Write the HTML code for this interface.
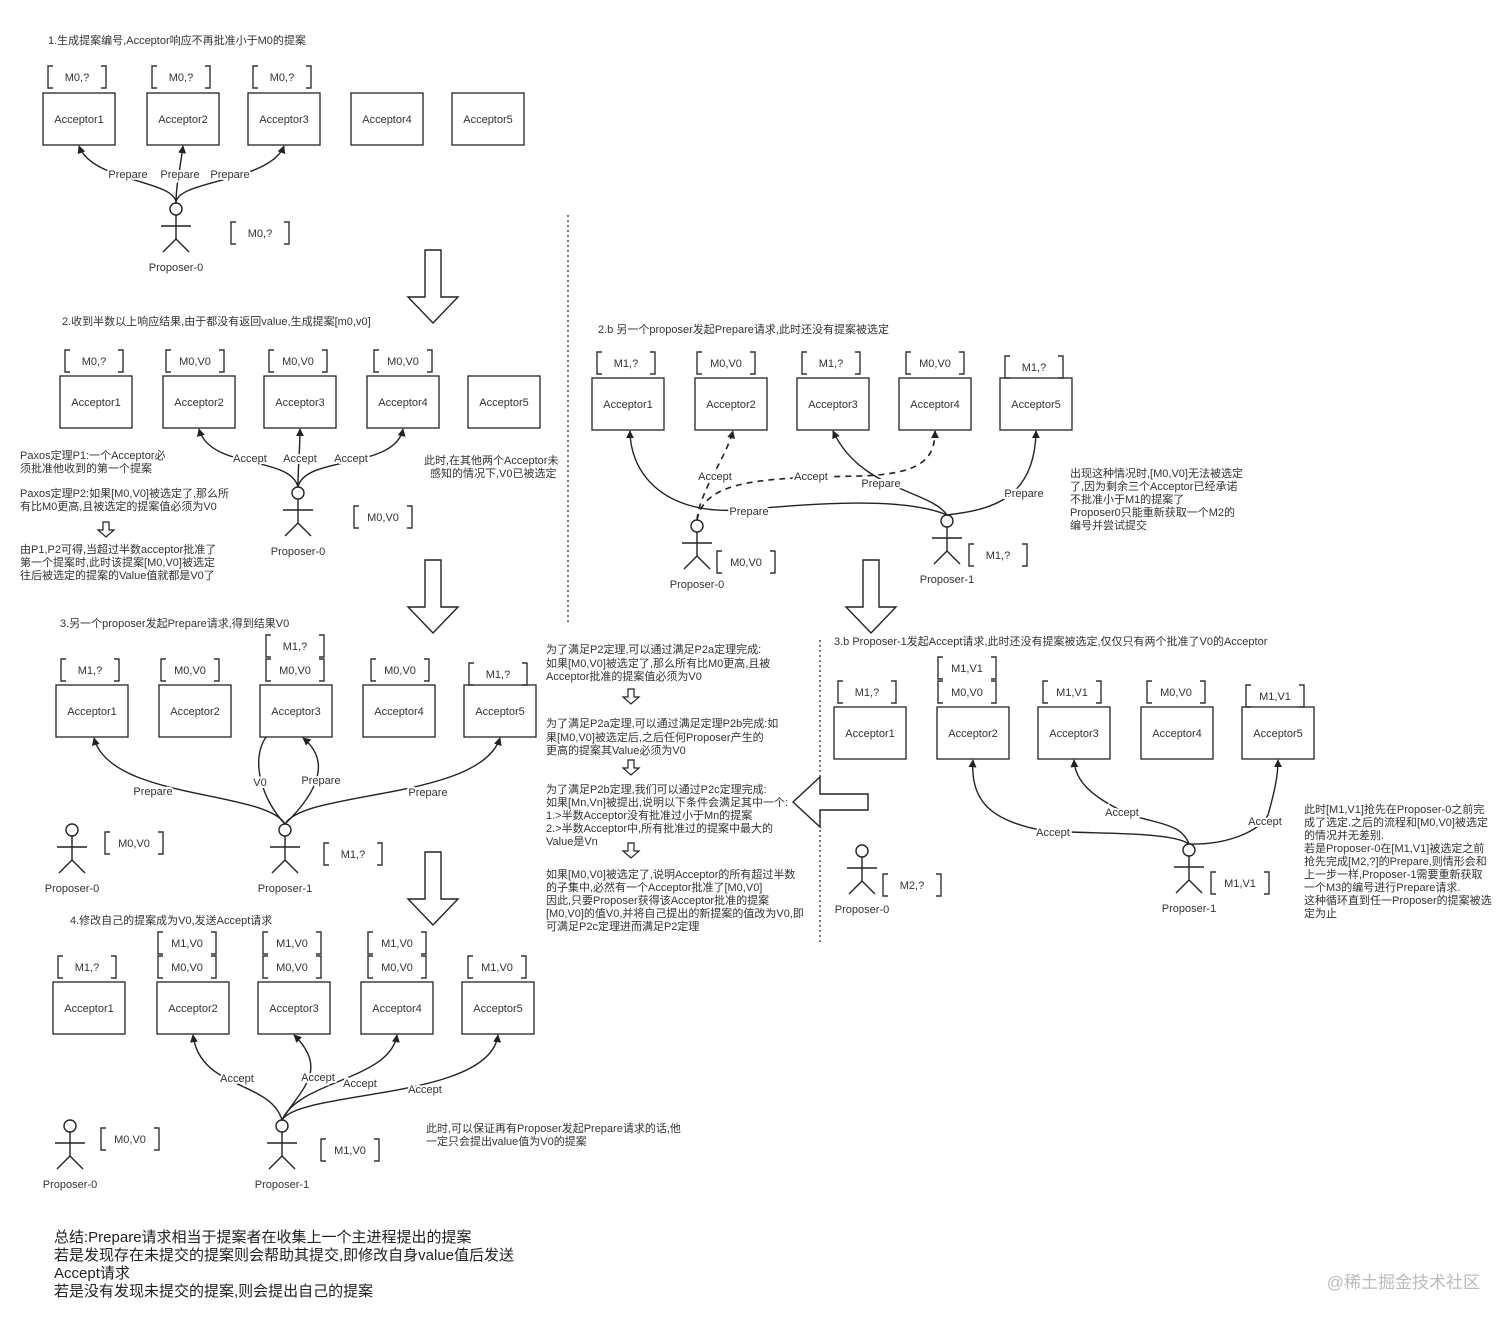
<!DOCTYPE html>
<html><head><meta charset="utf-8">
<style>
html,body{margin:0;padding:0;background:#fff}
svg{display:block}
text{font-family:"Liberation Sans","Noto Sans CJK SC",sans-serif;font-size:11px;fill:#333}
.c{text-anchor:middle}
.lb{text-anchor:middle;stroke:#fff;stroke-width:4;paint-order:stroke;fill:#333}
.bx rect{fill:#fff;stroke:#222;stroke-width:1.3}
.e{fill:none;stroke:#222;stroke-width:1.4}
.d{fill:none;stroke:#222;stroke-width:1.6;stroke-dasharray:6 5}
.sum{font-size:15px;fill:#222}
</style></head><body>
<svg width="1512" height="1324" viewBox="0 0 1512 1324" xmlns="http://www.w3.org/2000/svg">
<defs>
<path id="br" d="M-24,0 H-29 V22 H-24 M24,0 H29 V22 H24" fill="none" stroke="#333" stroke-width="1.4"/>
<g id="act" fill="none" stroke="#222" stroke-width="1.4"><circle cx="0" cy="0" r="6" fill="#fff"/><path d="M0,6 V30 M-15,17 H15 M0,30 L-13,43 M0,30 L13,43"/></g>
<marker id="ar" viewBox="0 0 10 10" refX="9" refY="5" markerWidth="8" markerHeight="8" orient="auto-start-reverse" markerUnits="userSpaceOnUse"><path d="M0,0 L10,5 L0,10 z" fill="#222"/></marker>
<path id="dn" d="M17,0 H33 V47 H50 L25,73 L0,47 H17 Z" fill="#fff" stroke="#222" stroke-width="1.4"/>
<path id="sd" d="M5,0 H11 V8 H16 L8,15 L0,8 H5 Z" fill="#fff" stroke="#222" stroke-width="1.2"/>
</defs>

<!-- Section 1 -->
<text x="48" y="44">1.生成提案编号,Acceptor响应不再批准小于M0的提案</text>
<g class="bx">
<g transform="translate(43,93)"><rect width="72" height="52"/><text x="36" y="30" class="c">Acceptor1</text></g>
<g transform="translate(147,93)"><rect width="72" height="52"/><text x="36" y="30" class="c">Acceptor2</text></g>
<g transform="translate(248,93)"><rect width="72" height="52"/><text x="36" y="30" class="c">Acceptor3</text></g>
<g transform="translate(351,93)"><rect width="72" height="52"/><text x="36" y="30" class="c">Acceptor4</text></g>
<g transform="translate(452,93)"><rect width="72" height="52"/><text x="36" y="30" class="c">Acceptor5</text></g>
</g>
<g transform="translate(77,66)"><use href="#br"/><text y="15" class="c">M0,?</text></g>
<g transform="translate(181,66)"><use href="#br"/><text y="15" class="c">M0,?</text></g>
<g transform="translate(282,66)"><use href="#br"/><text y="15" class="c">M0,?</text></g>
<path class="e" marker-end="url(#ar)" d="M176,203 C176,180 92,182 79,146"/>
<path class="e" marker-end="url(#ar)" d="M176,203 C176,185 180,170 183,146"/>
<path class="e" marker-end="url(#ar)" d="M176,203 C176,180 270,182 284,146"/>
<text x="128" y="178" class="lb">Prepare</text>
<text x="180" y="178" class="lb">Prepare</text>
<text x="230" y="178" class="lb">Prepare</text>
<g transform="translate(176,209)"><use href="#act"/><text y="62" class="c">Proposer-0</text></g>
<g transform="translate(260,222)"><use href="#br"/><text y="15" class="c">M0,?</text></g>

<use href="#dn" x="408" y="250"/>
<use href="#dn" x="408" y="560"/>
<use href="#dn" x="408" y="852"/>
<use href="#dn" x="846" y="560"/>

<line x1="568" y1="215" x2="568" y2="622" stroke="#333" stroke-width="1.3" stroke-dasharray="2 3"/>
<line x1="820" y1="640" x2="820" y2="942" stroke="#333" stroke-width="1.3" stroke-dasharray="2 3"/>

<!-- Section 2 -->
<text x="62" y="325">2.收到半数以上响应结果,由于都没有返回value,生成提案[m0,v0]</text>
<g class="bx">
<g transform="translate(60,376)"><rect width="72" height="52"/><text x="36" y="30" class="c">Acceptor1</text></g>
<g transform="translate(163,376)"><rect width="72" height="52"/><text x="36" y="30" class="c">Acceptor2</text></g>
<g transform="translate(264,376)"><rect width="72" height="52"/><text x="36" y="30" class="c">Acceptor3</text></g>
<g transform="translate(367,376)"><rect width="72" height="52"/><text x="36" y="30" class="c">Acceptor4</text></g>
<g transform="translate(468,376)"><rect width="72" height="52"/><text x="36" y="30" class="c">Acceptor5</text></g>
</g>
<g transform="translate(94,350)"><use href="#br"/><text y="15" class="c">M0,?</text></g>
<g transform="translate(195,350)"><use href="#br"/><text y="15" class="c">M0,V0</text></g>
<g transform="translate(298,350)"><use href="#br"/><text y="15" class="c">M0,V0</text></g>
<g transform="translate(403,350)"><use href="#br"/><text y="15" class="c">M0,V0</text></g>
<path class="e" marker-end="url(#ar)" d="M298,487 C290,455 210,470 199,429"/>
<path class="e" marker-end="url(#ar)" d="M298,487 C298,465 300,450 300,429"/>
<path class="e" marker-end="url(#ar)" d="M298,487 C305,455 395,470 403,429"/>
<text x="250" y="462" class="lb">Accept</text>
<text x="300" y="462" class="lb">Accept</text>
<text x="351" y="462" class="lb">Accept</text>
<g transform="translate(298,493)"><use href="#act"/><text y="62" class="c">Proposer-0</text></g>
<g transform="translate(383,506)"><use href="#br"/><text y="15" class="c">M0,V0</text></g>
<text x="20" y="459">Paxos定理P1:一个Acceptor必</text>
<text x="20" y="472">须批准他收到的第一个提案</text>
<text x="20" y="497">Paxos定理P2:如果[M0,V0]被选定了,那么所</text>
<text x="20" y="510">有比M0更高,且被选定的提案值必须为V0</text>
<use href="#sd" x="98" y="522"/>
<text x="20" y="553">由P1,P2可得,当超过半数acceptor批准了</text>
<text x="20" y="566">第一个提案时,此时该提案[M0,V0]被选定</text>
<text x="20" y="579">往后被选定的提案的Value值就都是V0了</text>
<text x="424" y="464">此时,在其他两个Acceptor未</text>
<text x="430" y="477">感知的情况下,V0已被选定</text>

<!-- Section 3 -->
<text x="60" y="627">3.另一个proposer发起Prepare请求,得到结果V0</text>
<g class="bx">
<g transform="translate(56,685)"><rect width="72" height="52"/><text x="36" y="30" class="c">Acceptor1</text></g>
<g transform="translate(159,685)"><rect width="72" height="52"/><text x="36" y="30" class="c">Acceptor2</text></g>
<g transform="translate(260,685)"><rect width="72" height="52"/><text x="36" y="30" class="c">Acceptor3</text></g>
<g transform="translate(363,685)"><rect width="72" height="52"/><text x="36" y="30" class="c">Acceptor4</text></g>
<g transform="translate(464,685)"><rect width="72" height="52"/><text x="36" y="30" class="c">Acceptor5</text></g>
</g>
<g transform="translate(90,659)"><use href="#br"/><text y="15" class="c">M1,?</text></g>
<g transform="translate(190,659)"><use href="#br"/><text y="15" class="c">M0,V0</text></g>
<g transform="translate(295,635)"><use href="#br"/><text y="15" class="c">M1,?</text></g>
<g transform="translate(295,659)"><use href="#br"/><text y="15" class="c">M0,V0</text></g>
<g transform="translate(400,659)"><use href="#br"/><text y="15" class="c">M0,V0</text></g>
<g transform="translate(498,663)"><use href="#br"/><text y="15" class="c">M1,?</text></g>
<path class="e" marker-end="url(#ar)" d="M285,824 C265,790 110,800 94,738"/>
<path class="e" d="M285,824 C262,800 250,760 266,737"/>
<path class="e" marker-end="url(#ar)" d="M285,824 C320,790 330,760 303,738"/>
<path class="e" marker-end="url(#ar)" d="M285,824 C305,790 480,800 500,738"/>
<text x="153" y="795" class="lb">Prepare</text>
<text x="260" y="786" class="lb">V0</text>
<text x="321" y="784" class="lb">Prepare</text>
<text x="428" y="796" class="lb">Prepare</text>
<g transform="translate(72,830)"><use href="#act"/><text y="62" class="c">Proposer-0</text></g>
<g transform="translate(134,832)"><use href="#br"/><text y="15" class="c">M0,V0</text></g>
<g transform="translate(285,830)"><use href="#act"/><text y="62" class="c">Proposer-1</text></g>
<g transform="translate(353,843)"><use href="#br"/><text y="15" class="c">M1,?</text></g>

<!-- Section 4 -->
<text x="70" y="924">4.修改自己的提案成为V0,发送Accept请求</text>
<g class="bx">
<g transform="translate(53,982)"><rect width="72" height="52"/><text x="36" y="30" class="c">Acceptor1</text></g>
<g transform="translate(157,982)"><rect width="72" height="52"/><text x="36" y="30" class="c">Acceptor2</text></g>
<g transform="translate(258,982)"><rect width="72" height="52"/><text x="36" y="30" class="c">Acceptor3</text></g>
<g transform="translate(361,982)"><rect width="72" height="52"/><text x="36" y="30" class="c">Acceptor4</text></g>
<g transform="translate(462,982)"><rect width="72" height="52"/><text x="36" y="30" class="c">Acceptor5</text></g>
</g>
<g transform="translate(87,956)"><use href="#br"/><text y="15" class="c">M1,?</text></g>
<g transform="translate(187,932)"><use href="#br"/><text y="15" class="c">M1,V0</text></g>
<g transform="translate(187,956)"><use href="#br"/><text y="15" class="c">M0,V0</text></g>
<g transform="translate(292,932)"><use href="#br"/><text y="15" class="c">M1,V0</text></g>
<g transform="translate(292,956)"><use href="#br"/><text y="15" class="c">M0,V0</text></g>
<g transform="translate(397,932)"><use href="#br"/><text y="15" class="c">M1,V0</text></g>
<g transform="translate(397,956)"><use href="#br"/><text y="15" class="c">M0,V0</text></g>
<g transform="translate(497,956)"><use href="#br"/><text y="15" class="c">M1,V0</text></g>
<path class="e" marker-end="url(#ar)" d="M282,1120 C270,1080 200,1090 193,1035"/>
<path class="e" marker-end="url(#ar)" d="M282,1120 C300,1090 330,1070 294,1035"/>
<path class="e" marker-end="url(#ar)" d="M282,1120 C300,1080 390,1080 397,1035"/>
<path class="e" marker-end="url(#ar)" d="M282,1120 C300,1090 490,1100 498,1035"/>
<text x="237" y="1082" class="lb">Accept</text>
<text x="318" y="1081" class="lb">Accept</text>
<text x="360" y="1087" class="lb">Accept</text>
<text x="425" y="1093" class="lb">Accept</text>
<g transform="translate(70,1126)"><use href="#act"/><text y="62" class="c">Proposer-0</text></g>
<g transform="translate(130,1128)"><use href="#br"/><text y="15" class="c">M0,V0</text></g>
<g transform="translate(282,1126)"><use href="#act"/><text y="62" class="c">Proposer-1</text></g>
<g transform="translate(350,1139)"><use href="#br"/><text y="15" class="c">M1,V0</text></g>
<text x="426" y="1132">此时,可以保证再有Proposer发起Prepare请求的话,他</text>
<text x="426" y="1145">一定只会提出value值为V0的提案</text>

<!-- Summary -->
<text x="54" y="1242" class="sum">总结:Prepare请求相当于提案者在收集上一个主进程提出的提案</text>
<text x="54" y="1260" class="sum">若是发现存在未提交的提案则会帮助其提交,即修改自身value值后发送</text>
<text x="54" y="1278" class="sum">Accept请求</text>
<text x="54" y="1296" class="sum">若是没有发现未提交的提案,则会提出自己的提案</text>
<text x="1480" y="1288" style="font-size:17px;fill:#bbb;text-anchor:end">@稀土掘金技术社区</text>

<!-- Section 2.b -->
<text x="598" y="333">2.b 另一个proposer发起Prepare请求,此时还没有提案被选定</text>
<g class="bx">
<g transform="translate(592,378)"><rect width="72" height="52"/><text x="36" y="30" class="c">Acceptor1</text></g>
<g transform="translate(695,378)"><rect width="72" height="52"/><text x="36" y="30" class="c">Acceptor2</text></g>
<g transform="translate(797,378)"><rect width="72" height="52"/><text x="36" y="30" class="c">Acceptor3</text></g>
<g transform="translate(899,378)"><rect width="72" height="52"/><text x="36" y="30" class="c">Acceptor4</text></g>
<g transform="translate(1000,378)"><rect width="72" height="52"/><text x="36" y="30" class="c">Acceptor5</text></g>
</g>
<g transform="translate(626,352)"><use href="#br"/><text y="15" class="c">M1,?</text></g>
<g transform="translate(726,352)"><use href="#br"/><text y="15" class="c">M0,V0</text></g>
<g transform="translate(831,352)"><use href="#br"/><text y="15" class="c">M1,?</text></g>
<g transform="translate(935,352)"><use href="#br"/><text y="15" class="c">M0,V0</text></g>
<g transform="translate(1034,356)"><use href="#br"/><text y="15" class="c">M1,?</text></g>
<path class="e" marker-end="url(#ar)" d="M947,515 C900,495 800,505 740,510 C660,515 630,470 630,431"/>
<path class="e" marker-end="url(#ar)" d="M947,515 C930,490 860,490 833,431"/>
<path class="e" marker-end="url(#ar)" d="M947,515 C990,510 1035,500 1036,431"/>
<path class="d" marker-end="url(#ar)" d="M697,520 C700,490 725,460 733,431"/>
<path class="d" marker-end="url(#ar)" d="M697,520 C705,480 760,478 860,476 C920,474 935,460 935,431"/>
<text x="715" y="480" class="lb">Accept</text>
<text x="811" y="480" class="lb">Accept</text>
<text x="881" y="487" class="lb">Prepare</text>
<text x="1024" y="497" class="lb">Prepare</text>
<text x="749" y="515" class="lb">Prepare</text>
<g transform="translate(697,526)"><use href="#act"/><text y="62" class="c">Proposer-0</text></g>
<g transform="translate(746,551)"><use href="#br"/><text y="15" class="c">M0,V0</text></g>
<g transform="translate(947,521)"><use href="#act"/><text y="62" class="c">Proposer-1</text></g>
<g transform="translate(998,544)"><use href="#br"/><text y="15" class="c">M1,?</text></g>
<text x="1070" y="477">出现这种情况时,[M0,V0]无法被选定</text>
<text x="1070" y="490">了,因为剩余三个Acceptor已经承诺</text>
<text x="1070" y="503">不批准小于M1的提案了</text>
<text x="1070" y="516">Proposer0只能重新获取一个M2的</text>
<text x="1070" y="529">编号并尝试提交</text>

<!-- Middle text -->
<text x="546" y="653">为了满足P2定理,可以通过满足P2a定理完成:</text>
<text x="546" y="667">如果[M0,V0]被选定了,那么所有比M0更高,且被</text>
<text x="546" y="680">Acceptor批准的提案值必须为V0</text>
<use href="#sd" x="623" y="689"/>
<text x="546" y="727">为了满足P2a定理,可以通过满足定理P2b完成:如</text>
<text x="546" y="741">果[M0,V0]被选定后,之后任何Proposer产生的</text>
<text x="546" y="754">更高的提案其Value必须为V0</text>
<use href="#sd" x="623" y="760"/>
<text x="546" y="793">为了满足P2b定理,我们可以通过P2c定理完成:</text>
<text x="546" y="806">如果[Mn,Vn]被提出,说明以下条件会满足其中一个:</text>
<text x="546" y="819">1.&gt;半数Acceptor没有批准过小于Mn的提案</text>
<text x="546" y="832">2.&gt;半数Acceptor中,所有批准过的提案中最大的</text>
<text x="546" y="845">Value是Vn</text>
<use href="#sd" x="623" y="843"/>
<text x="546" y="878">如果[M0,V0]被选定了,说明Acceptor的所有超过半数</text>
<text x="546" y="891">的子集中,必然有一个Acceptor批准了[M0,V0]</text>
<text x="546" y="904">因此,只要Proposer获得该Acceptor批准的提案</text>
<text x="546" y="917">[M0,V0]的值V0,并将自己提出的新提案的值改为V0,即</text>
<text x="546" y="930">可满足P2c定理进而满足P2定理</text>
<path d="M793,802 L820,777 V794 H868 V810 H820 V827 Z" fill="#fff" stroke="#222" stroke-width="1.4"/>

<!-- Section 3.b -->
<text x="834" y="645">3.b Proposer-1发起Accept请求,此时还没有提案被选定,仅仅只有两个批准了V0的Acceptor</text>
<g class="bx">
<g transform="translate(834,707)"><rect width="72" height="52"/><text x="36" y="30" class="c">Acceptor1</text></g>
<g transform="translate(937,707)"><rect width="72" height="52"/><text x="36" y="30" class="c">Acceptor2</text></g>
<g transform="translate(1038,707)"><rect width="72" height="52"/><text x="36" y="30" class="c">Acceptor3</text></g>
<g transform="translate(1141,707)"><rect width="72" height="52"/><text x="36" y="30" class="c">Acceptor4</text></g>
<g transform="translate(1242,707)"><rect width="72" height="52"/><text x="36" y="30" class="c">Acceptor5</text></g>
</g>
<g transform="translate(867,681)"><use href="#br"/><text y="15" class="c">M1,?</text></g>
<g transform="translate(967,657)"><use href="#br"/><text y="15" class="c">M1,V1</text></g>
<g transform="translate(967,681)"><use href="#br"/><text y="15" class="c">M0,V0</text></g>
<g transform="translate(1072,681)"><use href="#br"/><text y="15" class="c">M1,V1</text></g>
<g transform="translate(1176,681)"><use href="#br"/><text y="15" class="c">M0,V0</text></g>
<g transform="translate(1275,685)"><use href="#br"/><text y="15" class="c">M1,V1</text></g>
<path class="e" marker-end="url(#ar)" d="M1189,844 C1170,830 1080,835 1040,830 C990,820 970,800 973,760"/>
<path class="e" marker-end="url(#ar)" d="M1189,844 C1180,820 1150,825 1120,810 C1090,795 1075,780 1074,760"/>
<path class="e" marker-end="url(#ar)" d="M1189,844 C1230,845 1260,830 1268,815 C1275,790 1278,775 1278,760"/>
<text x="1053" y="836" class="lb">Accept</text>
<text x="1122" y="816" class="lb">Accept</text>
<text x="1265" y="825" class="lb">Accept</text>
<g transform="translate(862,851)"><use href="#act"/><text y="62" class="c">Proposer-0</text></g>
<g transform="translate(912,874)"><use href="#br"/><text y="15" class="c">M2,?</text></g>
<g transform="translate(1189,850)"><use href="#act"/><text y="62" class="c">Proposer-1</text></g>
<g transform="translate(1240,872)"><use href="#br"/><text y="15" class="c">M1,V1</text></g>
<text x="1304" y="813">此时[M1,V1]抢先在Proposer-0之前完</text>
<text x="1304" y="826">成了选定.之后的流程和[M0,V0]被选定</text>
<text x="1304" y="839">的情况并无差别.</text>
<text x="1304" y="852">若是Proposer-0在[M1,V1]被选定之前</text>
<text x="1304" y="865">抢先完成[M2,?]的Prepare,则情形会和</text>
<text x="1304" y="878">上一步一样,Proposer-1需要重新获取</text>
<text x="1304" y="891">一个M3的编号进行Prepare请求.</text>
<text x="1304" y="904">这种循环直到任一Proposer的提案被选</text>
<text x="1304" y="917">定为止</text>
</svg>
</body></html>
